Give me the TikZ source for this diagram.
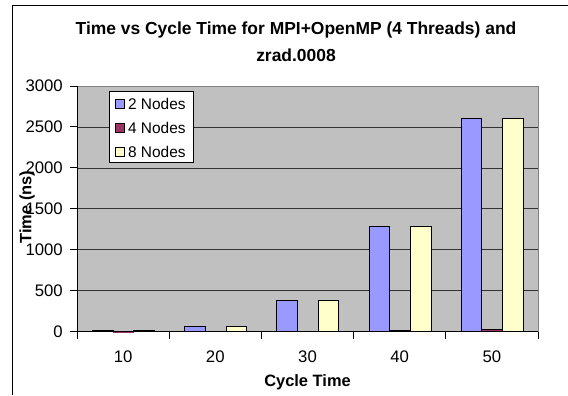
\documentclass[tikz,border=0pt]{standalone}
\usepackage{fontspec}
\setmainfont{Liberation Sans}
\usetikzlibrary{positioning}

\definecolor{plotGray}{HTML}{C0C0C0}
\definecolor{nodesTwo}{HTML}{9999FF}
\definecolor{nodesFour}{HTML}{993366}
\definecolor{nodesEight}{HTML}{FFFFCC}

\begin{document}
\begin{tikzpicture}[x=1bp,y=1bp]
  % chart geometry, all in bp
  \def\plotL{77}
  \def\plotR{538}
  \def\plotB{63.3}
  \def\plotT{309}
  \def\cat{92.2}
  \def\barw{20.7}
  \def\vs{0.0819} % bp per ns

  \tikzstyle{chartTitle} = [
    font=\fontsize{17.5}{27}\selectfont\bfseries,
    align=center, inner sep=0pt
  ];
  \tikzstyle{tickLabel} = [
    % Just text!
    font=\fontsize{16.8}{18}\selectfont,
    inner sep=0pt
  ];
  \tikzstyle{axisTitle} = [
    font=\fontsize{16.5}{19}\selectfont\bfseries,
    inner sep=0pt
  ];
  \tikzstyle{gridLine} = [
    draw=black!80,
    line width=0.75bp
  ];
  \tikzstyle{axisLine} = [
    draw=black,
    line width=1bp
  ];
  \tikzstyle{bar} = [
    draw=black,
    line width=1bp
  ];
  \tikzstyle{legendKey} = [
    rectangle, minimum size=9bp, inner sep=0pt,
    draw=black, line width=0.75bp
  ];
  \tikzstyle{legendText} = [
    font=\fontsize{15.5}{18}\selectfont,
    inner sep=0pt, anchor=west
  ];

  \useasboundingbox (0,0) rectangle (568,395);

  % outer frame (open to the right and below)
  \draw [line width=0.8bp] (12.5,0) -- (12.5,390) -- (568,390);

  % title, anchored on the baseline of its second line
  \node [chartTitle, anchor=base] (title) at (296,334)
    {Time vs Cycle Time for MPI+OpenMP (4 Threads) and\\ zrad.0008};

  % plot area and grid
  \fill [plotGray] (\plotL,\plotB) rectangle (\plotR,\plotT);
  \foreach \k in {1,...,5}
    \path [gridLine] (\plotL,\plotB+\k*500*\vs) -- (\plotR,\plotB+\k*500*\vs);
  \draw [gray, line width=0.75bp] (\plotL,\plotT) -- (\plotR,\plotT) -- (\plotR,\plotB);

  % bars: 2, 4 and 8 nodes per cycle time
  \foreach \two/\four/\eight [count=\i from 0] in
      {10/2/10, 60/3/60, 375/8/375, 1290/15/1290, 2600/25/2600} {
    \pgfmathsetmacro\xa{\plotL+\i*\cat+15.4}
    \path [bar, fill=nodesTwo]   (\xa,\plotB) rectangle ++(\barw,\two*\vs);
    \path [bar, fill=nodesFour]  (\xa+\barw,\plotB) rectangle ++(\barw,\four*\vs);
    \path [bar, fill=nodesEight] (\xa+2*\barw,\plotB) rectangle ++(\barw,\eight*\vs);
  }

  % axes with ticks
  \path [axisLine] (\plotL,\plotT) -- (\plotL,\plotB) -- (\plotR,\plotB);
  \foreach \k in {0,...,6} {
    \path [axisLine] (\plotL-7,\plotB+\k*500*\vs) -- (\plotL,\plotB+\k*500*\vs);
    \pgfmathtruncatemacro\val{\k*500}
    \node [tickLabel, anchor=east] (y\k) at (63,\plotB+\k*500*\vs) {\val};
  }
  \foreach \k in {0,...,5}
    \path [axisLine] (\plotL+\k*\cat,\plotB) -- (\plotL+\k*\cat,\plotB-7);
  \foreach \t [count=\i from 0] in {10,20,30,40,50}
    \node [tickLabel] (x\t) at (\plotL+\i*\cat+0.5*\cat,38) {\t};

  % axis titles
  \node [axisTitle] (xTitle) at (307.5,13) {Cycle Time};
  \node [axisTitle, rotate=90] (yTitle) at (27,188) {Time (ns)};

  % legend
  \node [draw=black, fill=white, line width=0.75bp, inner sep=0pt,
         minimum width=84bp, minimum height=71bp, anchor=north west]
        (legend) at (108.5,304) {};
  \node [legendKey, fill=nodesTwo]   (keyTwo)   at (120,291) {};
  \node [legendKey, fill=nodesFour]  (keyFour)  at (120,267.5) {};
  \node [legendKey, fill=nodesEight] (keyEight) at (120,243.5) {};
  \node [legendText, right=3bp of keyTwo]   (textTwo)   {2 Nodes};
  \node [legendText, right=3bp of keyFour]  (textFour)  {4 Nodes};
  \node [legendText, right=3bp of keyEight] (textEight) {8 Nodes};
\end{tikzpicture}
\end{document}
